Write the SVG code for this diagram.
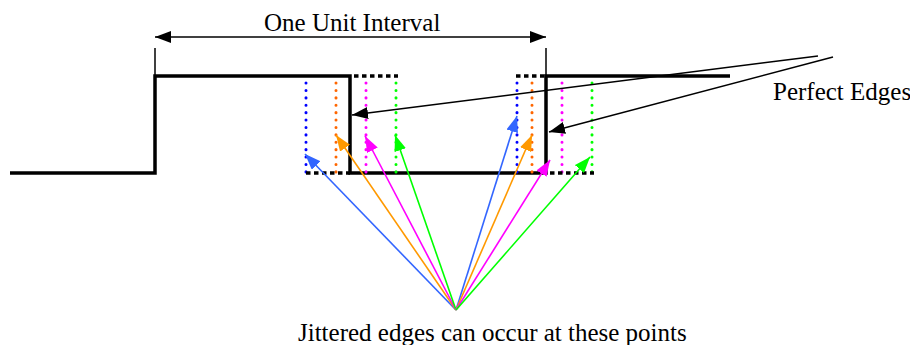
<svg xmlns="http://www.w3.org/2000/svg" width="910" height="345" viewBox="0 0 910 345">
<style>
text{font-family:"Liberation Serif","Times New Roman",serif;font-size:25px;fill:#000}
.wave{fill:none;stroke:#000;stroke-width:3.5;stroke-linejoin:miter}
.thin{fill:none;stroke:#000;stroke-width:1.5}
.dot{fill:none;stroke-width:3;stroke-linecap:round;stroke-dasharray:0.1 7.3}
.bdot{fill:none;stroke:#000;stroke-width:3.5;stroke-dasharray:4.5 3.5}
.ar{fill:none;stroke-width:1.6}
</style>
<defs>
<marker id="mk" markerUnits="userSpaceOnUse" viewBox="0 0 16 12" refX="16" refY="6" markerWidth="16" markerHeight="12" orient="auto"><path d="M0,0 L16,6 L0,12 z" fill="#000"/></marker>
<marker id="mkS" markerUnits="userSpaceOnUse" viewBox="0 0 16 12" refX="16" refY="6" markerWidth="16" markerHeight="12" orient="auto-start-reverse"><path d="M0,0 L16,6 L0,12 z" fill="#000"/></marker>
<marker id="mb" markerUnits="userSpaceOnUse" viewBox="0 0 16 12" refX="16" refY="6" markerWidth="16" markerHeight="12" orient="auto"><path d="M0,0 L16,6 L0,12 z" fill="#3366ff"/></marker>
<marker id="mo" markerUnits="userSpaceOnUse" viewBox="0 0 16 12" refX="16" refY="6" markerWidth="16" markerHeight="12" orient="auto"><path d="M0,0 L16,6 L0,12 z" fill="#ff9900"/></marker>
<marker id="mm" markerUnits="userSpaceOnUse" viewBox="0 0 16 12" refX="16" refY="6" markerWidth="16" markerHeight="12" orient="auto"><path d="M0,0 L16,6 L0,12 z" fill="#ff00ff"/></marker>
<marker id="mg" markerUnits="userSpaceOnUse" viewBox="0 0 16 12" refX="16" refY="6" markerWidth="16" markerHeight="12" orient="auto"><path d="M0,0 L16,6 L0,12 z" fill="#00ff00"/></marker>
</defs>

<g id="waveform">
<path class="wave" d="M10,173 H155 V76 H350 V173 H546 V76 H730"/>
<line class="thin" x1="155" y1="48" x2="155" y2="76"/>
<line class="thin" x1="546" y1="48" x2="546" y2="76"/>
</g>

<g id="jitter-left">
<line class="dot" stroke="#0000ff" x1="306" y1="83" x2="306" y2="173"/>
<line class="dot" stroke="#ff6600" x1="336" y1="83" x2="336" y2="173"/>
<line class="dot" stroke="#ff00ff" x1="366" y1="83" x2="366" y2="173"/>
<line class="dot" stroke="#00ff00" x1="396" y1="83" x2="396" y2="173"/>
<line class="bdot" x1="354" y1="76" x2="398" y2="76"/>
<line class="bdot" x1="306" y1="173" x2="350" y2="173"/>
</g>

<g id="jitter-right">
<line class="dot" stroke="#0000ff" x1="517" y1="83" x2="517" y2="173"/>
<line class="dot" stroke="#ff6600" x1="532" y1="83" x2="532" y2="173"/>
<line class="dot" stroke="#ff00ff" x1="562" y1="83" x2="562" y2="173"/>
<line class="dot" stroke="#00ff00" x1="592" y1="83" x2="592" y2="173"/>
<line class="bdot" x1="516" y1="76" x2="546" y2="76"/>
<line class="bdot" x1="550" y1="173" x2="594" y2="173"/>
</g>

<g id="unit-interval">
<line class="thin" x1="155" y1="37" x2="546" y2="37" marker-start="url(#mkS)" marker-end="url(#mk)"/>
<text x="264" y="31">One Unit Interval</text>
</g>

<g id="perfect-edges">
<text x="773" y="100">Perfect Edges</text>
</g>

<g id="jitter-label">
<text x="298" y="341">Jittered edges can occur at these points</text>
</g>

<g id="connectors">
<line class="thin" x1="818" y1="56" x2="352" y2="115" marker-end="url(#mk)"/>
<line class="thin" x1="833" y1="57" x2="549" y2="132" marker-end="url(#mk)"/>
<line class="ar" stroke="#3366ff" x1="456" y1="310" x2="305" y2="154" marker-end="url(#mb)"/>
<line class="ar" stroke="#ff9900" x1="456" y1="310" x2="336" y2="135" marker-end="url(#mo)"/>
<line class="ar" stroke="#ff00ff" x1="456" y1="310" x2="365" y2="136" marker-end="url(#mm)"/>
<line class="ar" stroke="#00ff00" x1="456" y1="310" x2="395" y2="135" marker-end="url(#mg)"/>
<line class="ar" stroke="#3366ff" x1="456" y1="310" x2="517" y2="116" marker-end="url(#mb)"/>
<line class="ar" stroke="#ff9900" x1="456" y1="310" x2="532" y2="135" marker-end="url(#mo)"/>
<line class="ar" stroke="#ff00ff" x1="456" y1="310" x2="550" y2="160" marker-end="url(#mm)"/>
<line class="ar" stroke="#00ff00" x1="456" y1="310" x2="590" y2="157" marker-end="url(#mg)"/>
</g>
</svg>
